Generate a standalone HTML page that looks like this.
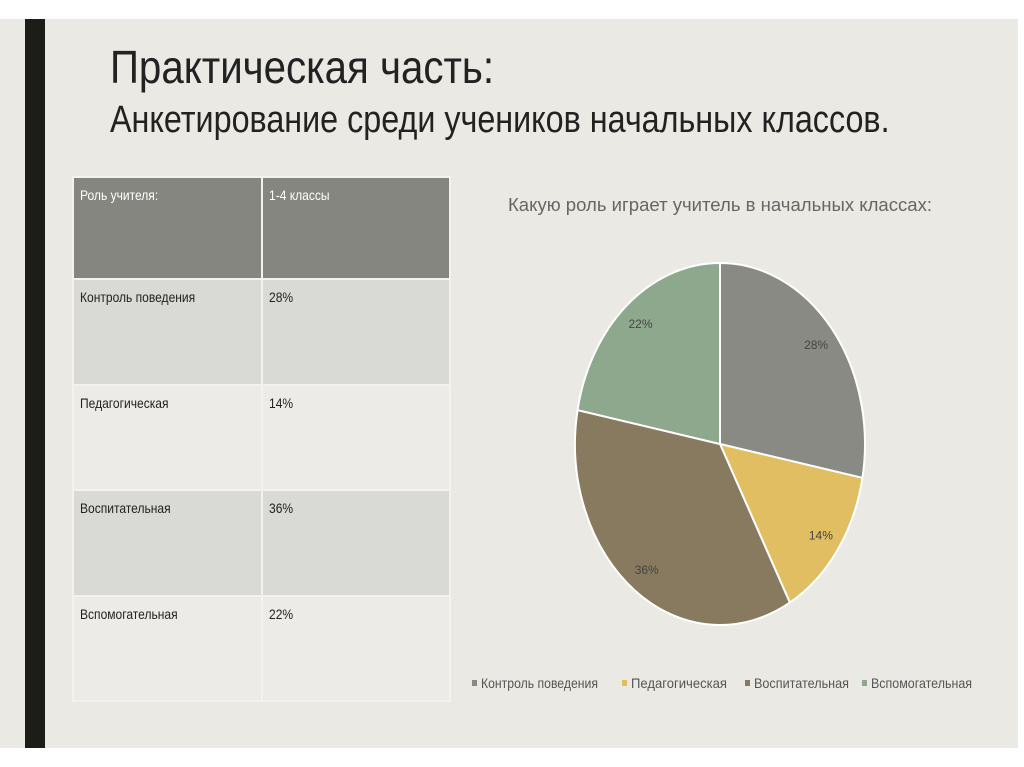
<!DOCTYPE html>
<html><head><meta charset="utf-8"><style>
body{margin:0;width:1024px;height:767px;background:#fff;overflow:hidden;font-family:"Liberation Sans",sans-serif;}
#slide{position:absolute;left:0;top:19px;width:1018px;height:729px;background:#ebe9e3;}
#bar{position:absolute;left:25px;top:19px;width:20px;height:729px;background:#1c1d18;}
.t{position:absolute;color:#222;white-space:nowrap;transform-origin:0 0;}
table{position:absolute;left:72px;top:176px;border-collapse:collapse;font-size:14px;color:#222;}
td{border:2px solid #f3f2ee;vertical-align:top;padding:9px 6px;}
td span{display:inline-block;transform:scaleX(0.86);transform-origin:0 0;white-space:nowrap;}
</style></head><body>
<div id="slide"></div>
<div id="bar"></div>
<div class="t" style="left:110px;top:40px;font-size:46px;transform:scaleX(0.875);">Практическая часть:</div>
<div class="t" style="left:110px;top:99px;font-size:38px;transform:scaleX(0.85);">Анкетирование среди учеников начальных классов.</div>
<table>
<tr style="height:102px;background:#868681;color:#fff;"><td style="width:175px"><span>Роль учителя:</span></td><td style="width:174px"><span>1-4 классы</span></td></tr>
<tr style="height:106px;background:#d9d9d5"><td><span>Контроль поведения</span></td><td><span>28%</span></td></tr>
<tr style="height:105px;background:#ecebe7"><td><span>Педагогическая</span></td><td><span>14%</span></td></tr>
<tr style="height:106px;background:#d9d9d5"><td><span>Воспитательная</span></td><td><span>36%</span></td></tr>
<tr style="height:105px;background:#ecebe7"><td><span>Вспомогательная</span></td><td><span>22%</span></td></tr>
</table>
<svg id="chart" width="1024" height="767" style="position:absolute;left:0;top:0">
<text x="720" y="211" text-anchor="middle" font-size="18" fill="#666" textLength="424" lengthAdjust="spacingAndGlyphs" font-family="Liberation Sans, sans-serif">Какую роль играет учитель в начальных классах:</text>
<g id="slices"></g><g id="labels"></g><g id="legend"></g>
</svg>
<script>
const categories=["Контроль поведения","Педагогическая","Воспитательная","Вспомогательная"];
const values=[28,14,36,22];
const valueLabels=["28%","14%","36%","22%"];
const colors=["#8a8a84","#e1be62","#877a5f","#8ea88d"];
const cx=720,cy=444,rx=145,ry=181;
const ns="http://www.w3.org/2000/svg";
const total=values.reduce((a,b)=>a+b,0);
function pt(a,f){return [cx+rx*f*Math.sin(a),cy-ry*f*Math.cos(a)];}
let a0=0;
const sg=document.getElementById('slices'),lg=document.getElementById('labels'),leg=document.getElementById('legend');
values.forEach((v,i)=>{
 const a1=a0+v/total*2*Math.PI;
 const p0=pt(a0,1),p1=pt(a1,1);
 const p=document.createElementNS(ns,'path');
 p.setAttribute('d',`M${cx},${cy}L${p0[0]},${p0[1]}A${rx},${ry} 0 ${a1-a0>Math.PI?1:0} 1 ${p1[0]},${p1[1]}Z`);
 p.setAttribute('fill',colors[i]);p.setAttribute('stroke','#fff');p.setAttribute('stroke-width','2');
 
 
 sg.appendChild(p);
 const m=pt((a0+a1)/2,0.86);
 const t=document.createElementNS(ns,'text');
 t.setAttribute('x',m[0]);t.setAttribute('y',m[1]+4);t.setAttribute('text-anchor','middle');
 t.setAttribute('font-size','12');t.setAttribute('fill','#444');t.setAttribute('font-family','Liberation Sans, sans-serif');
 t.textContent=valueLabels[i];
 
 
 lg.appendChild(t);
 a0=a1;
});
const lx=[472,622,745,862];
const lw=[117,96,95,101];
categories.forEach((c,i)=>{
 const r=document.createElementNS(ns,'rect');
 r.setAttribute('x',lx[i]);r.setAttribute('y',680);r.setAttribute('width',5);r.setAttribute('height',6);r.setAttribute('fill',colors[i]);
 
 
 leg.appendChild(r);
 const t=document.createElementNS(ns,'text');
 t.setAttribute('x',lx[i]+9);t.setAttribute('y',688);t.setAttribute('font-size','14');t.setAttribute('fill','#555');
 t.setAttribute('textLength',lw[i]);t.setAttribute('lengthAdjust','spacingAndGlyphs');
 t.setAttribute('font-family','Liberation Sans, sans-serif');
 t.textContent=c;
 
 
 leg.appendChild(t);
});
</script>
</body></html>
